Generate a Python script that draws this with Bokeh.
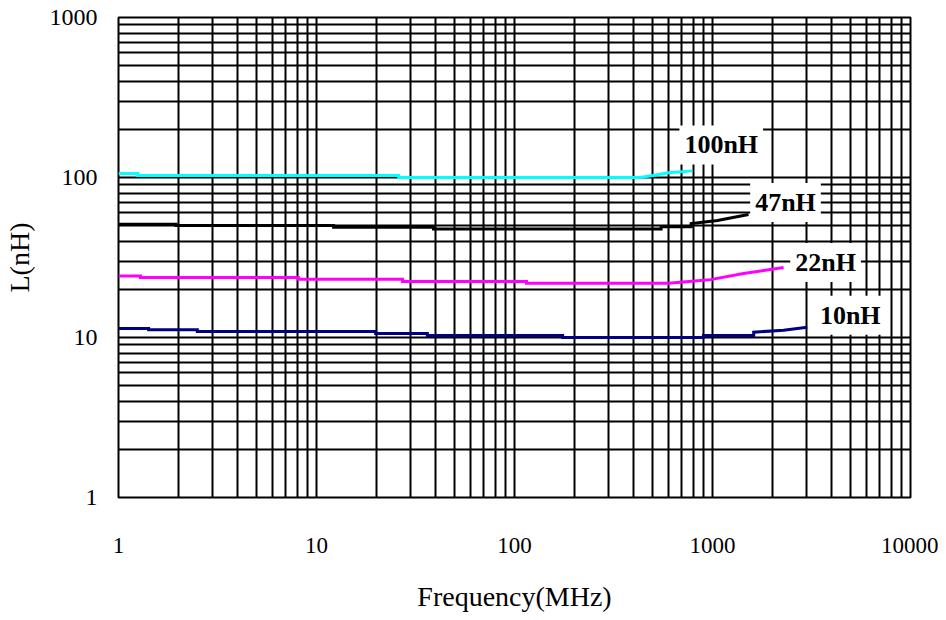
from bokeh.plotting import figure
from bokeh.models import FixedTicker, Label
from bokeh.embed import file_html
from bokeh.resources import INLINE

# ---- data ----
x_ticks = [1, 10, 100, 1000, 10000]
x_tick_labels = ["1", "10", "100", "1000", "10000"]
x_minor = [m * d for d in [1, 10, 100, 1000] for m in range(2, 10)]
y_ticks = [1, 10, 100, 1000]
y_tick_labels = ["1", "10", "100", "1000"]
y_minor = [m * d for d in [1, 10, 100] for m in range(2, 10)]

f_100 = [1, 1.25, 1.25, 26, 26, 430, 500, 600, 790]
l_100 = [106, 106, 103, 103, 100, 100, 103, 107, 110]

f_47 = [1, 1.95, 1.95, 12.2, 12.2, 39, 39, 550, 550, 780, 780, 1060, 1520]
l_47 = [51.1, 51.1, 50.1, 50.1, 48.9, 48.9, 47.7, 47.7, 49.2, 49.2, 51.6, 53.8, 58.7]

f_22 = [1, 1.29, 1.29, 8.1, 8.1, 27.2, 27.2, 115, 115, 600, 760, 977, 1435, 2285]
l_22 = [24.2, 24.2, 23.7, 23.7, 23.1, 23.1, 22.4, 22.4, 21.8, 21.8, 22.4, 23.0, 25.1, 27.4]

f_10 = [1, 1.42, 1.42, 2.5, 2.5, 19.9, 19.9, 36.3, 36.3, 175, 175, 900, 900, 1615, 1615, 2285, 3010]
l_10 = [11.4, 11.4, 11.2, 11.2, 10.9, 10.9, 10.6, 10.6, 10.3, 10.3, 10.0, 10.0, 10.3, 10.3, 10.8, 11.1, 11.6]

series = [
    ("100nH", f_100, l_100, "#00FFFF", 29, 26),
    ("47nH", f_47, l_47, "#000000", 37, 12),
    ("22nH", f_22, l_22, "#FF00FF", 42, 5),
    ("10nH", f_10, l_10, "#000080", 43, 12),
]

SERIF = "Liberation Serif"

p = figure(frame_width=792, frame_height=480,
           x_axis_type="log", y_axis_type="log",
           x_range=(1, 10000), y_range=(1, 1000),
           output_backend="svg", toolbar_location=None,
           min_border_left=110, min_border_right=28,
           min_border_top=17, min_border_bottom=115,
           background_fill_color="white", border_fill_color="white")

p.outline_line_color = "black"
p.outline_line_width = 2

p.xaxis.ticker = FixedTicker(ticks=x_ticks, minor_ticks=x_minor)
p.yaxis.ticker = FixedTicker(ticks=y_ticks, minor_ticks=y_minor)
p.xaxis.major_label_overrides = {t: s for t, s in zip(x_ticks, x_tick_labels)}
p.yaxis.major_label_overrides = {t: s for t, s in zip(y_ticks, y_tick_labels)}

for ax in (p.xaxis, p.yaxis):
    ax.axis_line_color = None
    ax.major_tick_line_color = None
    ax.minor_tick_line_color = None
    ax.major_tick_out = 0
    ax.major_tick_in = 0
    ax.minor_tick_out = 0
    ax.minor_tick_in = 0
    ax.major_label_text_font = SERIF
    ax.major_label_text_font_size = "24px"
    ax.major_label_text_color = "black"
    ax.axis_label_text_font = SERIF
    ax.axis_label_text_font_size = "28px"
    ax.axis_label_text_font_style = "normal"
    ax.axis_label_text_color = "black"

p.xaxis.major_label_text_font_size = "23px"
p.xaxis.axis_label = "Frequency(MHz)"
p.yaxis.axis_label = "L(nH)"
p.xaxis.major_label_standoff = 40
p.yaxis.major_label_standoff = 21
p.xaxis.axis_label_standoff = 25
p.yaxis.axis_label_standoff = 12

for g in (p.xgrid, p.ygrid):
    g.grid_line_color = "black"
    g.grid_line_width = 2
    g.grid_line_alpha = 1
    g.minor_grid_line_color = "black"
    g.minor_grid_line_width = 2
    g.minor_grid_line_alpha = 1

for name, f, l, color, dx, dy in series:
    p.line(f, l, line_color=color, line_width=3, line_join="miter")
    p.add_layout(Label(x=f[-1], y=l[-1], x_offset=dx, y_offset=dy, text=name,
                       text_font=SERIF, text_font_size="26px", text_font_style="bold",
                       text_color="black", text_align="center", text_baseline="middle",
                       background_fill_color="white", background_fill_alpha=1,
                       padding=5))

open("out.html", "w").write(file_html(p, INLINE))
